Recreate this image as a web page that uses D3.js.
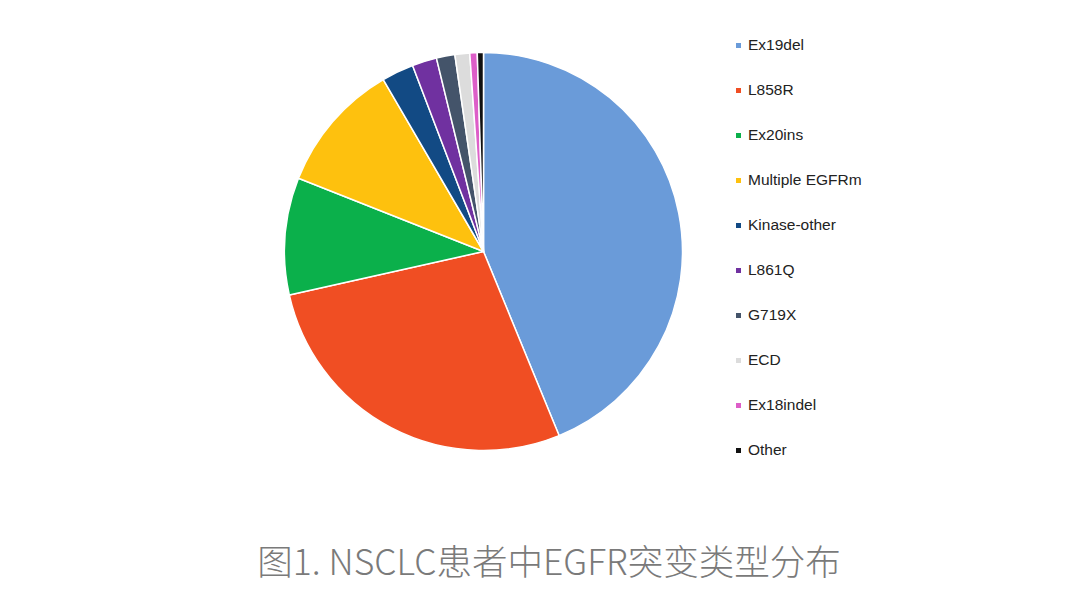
<!DOCTYPE html>
<html><head><meta charset="utf-8">
<script src="https://cdn.jsdelivr.net/npm/d3@7/dist/d3.min.js"></script>
<style>html,body{margin:0;padding:0;background:#fff;}</style>
</head><body>
<svg id="c" width="1080" height="608"></svg>
<script>
const categories = ["Ex19del","L858R","Ex20ins","Multiple EGFRm","Kinase-other","L861Q","G719X","ECD","Ex18indel","Other"];
const values = [43.8, 27.7, 9.5, 10.6, 2.6, 2.0, 1.5, 1.2, 0.6, 0.5];
const colors = ["#6a9bd9","#f04e23","#0bb04b","#fec10e","#124a84","#7031a0","#44546a","#dcdcdc","#dd5ec8","#111111"];
const title = "图1. NSCLC患者中EGFR突变类型分布";

const svg = d3.select("#c");
const cx = 483.5, cy = 251.5, r = 199;
const data = categories.map((c,i)=>({name:c, value:values[i], color:colors[i]}));
const pie = d3.pie().value(d=>d.value).sort(null);
const arc = d3.arc().innerRadius(0).outerRadius(r);
svg.append("g").attr("transform",`translate(${cx},${cy})`)
  .selectAll("path").data(pie(data)).join("path")
  .attr("d",arc).attr("fill",d=>d.data.color)
  .attr("stroke","#fff").attr("stroke-width",1.5).attr("stroke-linejoin","round");

const y = d3.scalePoint().domain(categories).range([44, 449]);
const lg = svg.append("g");
const rows = lg.selectAll("g").data(data).join("g")
  .attr("transform",d=>`translate(736,${y(d.name)})`);
rows.append("rect").attr("x",0).attr("y",-1).attr("width",5).attr("height",5).attr("fill",d=>d.color);
rows.append("text").attr("x",12).attr("y",5.5)
  .attr("font-family","'Liberation Sans', Arial, sans-serif").attr("font-size",15.5)
  .attr("fill","#222").text(d=>d.name);

svg.append("text").attr("x",549).attr("y",575).attr("text-anchor","middle")
  .attr("font-family","'Noto Sans CJK SC', sans-serif").attr("font-weight",300)
  .attr("font-size",35.5).attr("fill","#7a7a7a").text(title);
</script>
</body></html>
